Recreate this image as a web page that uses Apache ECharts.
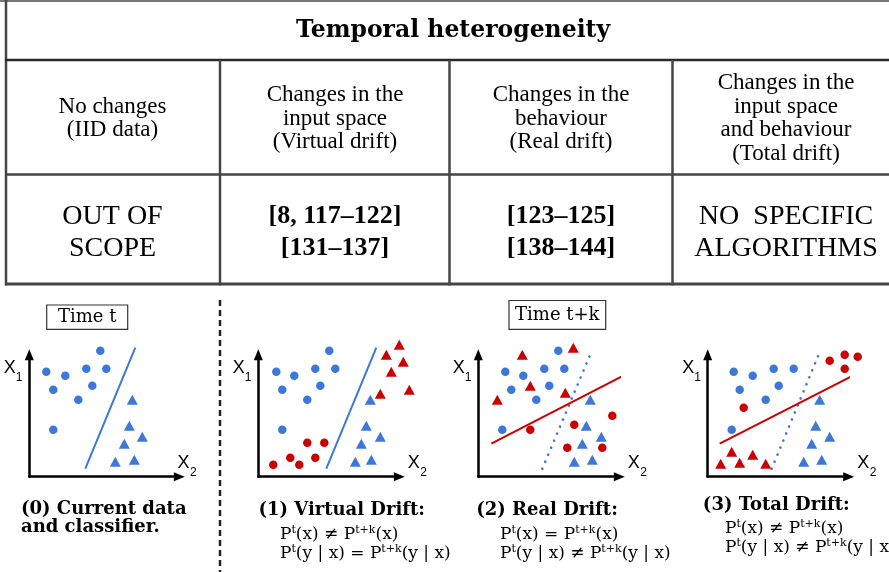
<!DOCTYPE html>
<html><head><meta charset="utf-8">
<script src="https://cdn.jsdelivr.net/npm/echarts@6/dist/echarts.min.js"></script>
<style>html,body{margin:0;padding:0;background:#fff}#c{width:889px;height:572px}</style>
</head><body><div id="c"></div>
<script>
// ---------------- text content ----------------
const tableTitle = 'Temporal heterogeneity';
const headerCells = ['No changes\n(IID data)', 'Changes in the\ninput space\n(Virtual drift)', 'Changes in the\nbehaviour\n(Real drift)', 'Changes in the\ninput space\nand behaviour\n(Total drift)'];
const bodyCells = ['OUT OF\nSCOPE', '[8, 117\u2013122]\n[131\u2013137]', '[123\u2013125]\n[138\u2013144]', 'NO  SPECIFIC\nALGORITHMS'];
const bodyBold = [false, true, true, false];
const timeLabels = ['Time t', 'Time t+k'];
const captionTitles = ['(0) Current data', '(1) Virtual Drift:', '(2) Real Drift:', '(3) Total Drift:'];
const captionSecond = 'and classifier.';
const formulaRelations = [null, ['\u2260', '='], ['=', '\u2260'], ['\u2260', '\u2260']];

// ---------------- point data (local axis units) ----------------
const p0BlueCircles = [[17,105],[36,101],[57,108],[77,108],[71,126],[24,87],[63,91],[49,77],[24,47]];
const p0BlueTriangles = [[103,77],[100,51],[113,40],[95,33],[86,15],[105,17]];
const p0Boundary = [[56,8],[106,129]];

const p1BlueCircles = [[18,105],[36,101],[57,108],[77,108],[71,126],[24,87],[62,91],[49,77],[24,47]];
const p1BlueTriangles = [[112,77],[108,51],[122,40],[103,33],[97,15],[113,17]];
const p1RedCircles = [[15,12],[32,19],[41,12],[49,34],[66,34],[57,19]];
const p1RedTriangles = [[141,132],[128,122],[145,115],[133,105],[122,83],[151,87]];
const p1Boundary = [[68,8],[118,129]];

const p2BlueCircles = [[80,126],[27,105],[45,101],[66,108],[86,108],[33,87],[71,91],[58,77],[24,47]];
const p2RedTriangles = [[44,122],[95,129],[52,91],[87,84],[19,77]];
const p2BlueTriangles = [[112,77],[108,51],[123,40],[104,33],[96,15],[114,17]];
const p2RedCircles = [[52,47],[96,52],[134,61],[89,29],[124,29]];
const p2NewBoundary = [[13,33],[145,101]];
const p2OldBoundary = [[64,8],[114,127]];

const p3BlueCircles = [[26,105],[45,101],[66,108],[86,108],[32,87],[71,91],[58,77],[24,47]];
const p3RedCircles = [[36,69],[122,116],[137,122],[150,120],[137,108]];
const p3RedTriangles = [[13,13],[24,25],[32,14],[45,22],[58,13]];
const p3BlueTriangles = [[112,77],[108,51],[122,40],[104,33],[96,15],[114,17]];
const p3NewBoundary = [[12,33],[145,101]];
const p3OldBoundary = [[64,8],[113,127]];

// ---------------- layout ----------------
const BLUE = '#3c78d8', RED = '#cc0000';
const panels = [
  {ox: 29.3, oy: 476.7, lx: 156, ly: 128},
  {ox: 258.3, oy: 476.7, lx: 147, ly: 128},
  {ox: 478.3, oy: 476.7, lx: 147, ly: 128},
  {ox: 707.7, oy: 476.7, lx: 147, ly: 128}
];
const AH = 6; // half arrow length

const grids = [], xAxes = [], yAxes = [];
panels.forEach((p, i) => {
  grids.push({left: p.ox, top: p.oy - (p.ly - AH), width: p.lx - AH, height: p.ly - AH, containLabel: false});
  const axisCommon = {
    type: 'value', gridIndex: i, min: 0,
    axisLine: {show: true, onZero: false, symbol: ['none', 'triangle'], symbolSize: [9, 11], lineStyle: {color: '#000', width: 2.5}},
    axisTick: {show: false}, axisLabel: {show: false}, splitLine: {show: false}
  };
  xAxes.push(Object.assign({}, axisCommon, {max: p.lx - AH}));
  yAxes.push(Object.assign({}, axisCommon, {max: p.ly - AH}));
});

const series = [];
function pts(i, data, shape, color) {
  series.push({
    type: 'scatter', xAxisIndex: i, yAxisIndex: i, data: data, clip: false, silent: true, z: 3,
    symbol: shape, symbolSize: shape === 'triangle' ? [11, 10] : 8.5,
    itemStyle: {color: color, opacity: 1}
  });
}
function boundary(i, data, color, dotted) {
  series.push({
    type: 'line', xAxisIndex: i, yAxisIndex: i, data: data, clip: false, silent: true, z: 2,
    showSymbol: false, symbol: 'none',
    lineStyle: dotted ? {color: color, width: 2.6, type: [0.1, 7.5], cap: 'round'} : {color: color, width: 2}
  });
}
boundary(0, p0Boundary, BLUE, false);
pts(0, p0BlueCircles, 'circle', BLUE);
pts(0, p0BlueTriangles, 'triangle', BLUE);

boundary(1, p1Boundary, BLUE, false);
pts(1, p1BlueCircles, 'circle', BLUE);
pts(1, p1BlueTriangles, 'triangle', BLUE);
pts(1, p1RedCircles, 'circle', RED);
pts(1, p1RedTriangles, 'triangle', RED);

boundary(2, p2OldBoundary, BLUE, true);
boundary(2, p2NewBoundary, RED, false);
pts(2, p2BlueCircles, 'circle', BLUE);
pts(2, p2RedTriangles, 'triangle', RED);
pts(2, p2BlueTriangles, 'triangle', BLUE);
pts(2, p2RedCircles, 'circle', RED);

boundary(3, p3OldBoundary, BLUE, true);
boundary(3, p3NewBoundary, RED, false);
pts(3, p3BlueCircles, 'circle', BLUE);
pts(3, p3RedCircles, 'circle', RED);
pts(3, p3RedTriangles, 'triangle', RED);
pts(3, p3BlueTriangles, 'triangle', BLUE);

// ---------------- graphic: table, labels ----------------
const g = [];
function line(x1, y1, x2, y2, stroke, w, dash) {
  g.push({type: 'line', silent: true, shape: {x1, y1, x2, y2}, style: {stroke, lineWidth: w, lineDash: dash || null}});
}
function text(x, y, str, opt) {
  opt = opt || {};
  const st = {
    text: str, fill: '#000',
    fontFamily: opt.family || 'DejaVu Serif', fontSize: opt.size || 17, fontWeight: opt.weight || 'normal',
    align: opt.align || 'center', textAlign: opt.align || 'center',
    verticalAlign: 'middle', textVerticalAlign: 'middle'
  };
  if (opt.lineHeight) st.lineHeight = opt.lineHeight;
  if (opt.rich) st.rich = opt.rich;
  g.push({type: 'text', silent: true, x, y, style: st, z: 10});
}

const LC = '#454545';
// table borders
line(0, 1, 889, 1, '#777', 2);
line(6, 0, 6, 285.5, LC, 2.5);
line(5, 60, 889, 60, '#2a2a2a', 2.5);
line(5, 174.5, 889, 174.5, LC, 2.5);
line(5, 284, 889, 284, LC, 3);
[220, 449.5, 672.5].forEach(x => line(x, 60, x, 285.5, LC, 2.5));
const colCenters = [112.5, 335, 561, 786];
text(453, 31, tableTitle, {size: 23.5, weight: 'bold'});
headerCells.forEach((t, i) => text(colCenters[i], 118.5, t, {family: 'Liberation Serif', size: 23, lineHeight: 23.5}));
bodyCells.forEach((t, i) => text(colCenters[i], 232.5, t, {family: 'Liberation Serif', size: bodyBold[i] ? 26 : 28, weight: bodyBold[i] ? 'bold' : 'normal', lineHeight: 31.6}));

// separator
line(220, 300, 220, 572, '#222', 2.5, [6, 4]);

// time boxes
g.push({type: 'rect', silent: true, shape: {x: 46.7, y: 305, width: 81, height: 24.3}, style: {fill: '#fff', stroke: '#333', lineWidth: 1.2}});
text(87.2, 317.5, timeLabels[0], {size: 18});
g.push({type: 'rect', silent: true, shape: {x: 509, y: 300.5, width: 96.7, height: 28.8}, style: {fill: '#fff', stroke: '#333', lineWidth: 1.2}});
text(557.3, 315.5, timeLabels[1], {size: 18});

// axis names X1 / X2
panels.forEach((p, i) => {
  const x1x = p.ox - 19.5, x1y = 368.3;
  const x2x = i === 0 ? 183.5 : p.ox + p.lx + 8.5, x2y = 463.3;
  text(x1x, x1y, 'X', {family: 'Liberation Sans', size: 18});
  text(x1x + 9.3, x1y + 9.3, '1', {family: 'Liberation Sans', size: 12});
  text(x2x, x2y, 'X', {family: 'Liberation Sans', size: 18});
  text(x2x + 9.8, x2y + 9.3, '2', {family: 'Liberation Sans', size: 12});
});

// captions
text(21, 509, captionTitles[0], {size: 18, weight: 'bold', align: 'left'});
text(21, 527, captionSecond, {size: 18, weight: 'bold', align: 'left'});
const capPos = [null, {tx: 341.7, ty: 510, fx: 280, f1: 535, f2: 553.5}, {tx: 547, ty: 510, fx: 500, f1: 535, f2: 553.5}, {tx: 776.3, ty: 505, fx: 725, f1: 528.5, f2: 547.5}];
const rich = {
  n: {fontFamily: 'DejaVu Serif', fontSize: 17, lineHeight: 20, fill: '#000', color: '#000'},
  s: {fontFamily: 'DejaVu Serif', fontSize: 11, lineHeight: 12, verticalAlign: 'top', fill: '#000', color: '#000'}
};
for (let i = 1; i < 4; i++) {
  const c = capPos[i];
  text(c.tx, c.ty, captionTitles[i], {size: 18, weight: 'bold'});
  const r = formulaRelations[i];
  text(c.fx, c.f1, '{n|P}{s|t}{n|(x) ' + r[0] + ' P}{s|t+k}{n|(x)}', {align: 'left', rich});
  text(c.fx, c.f2, '{n|P}{s|t}{n|(y | x) ' + r[1] + ' P}{s|t+k}{n|(y | x)}', {align: 'left', rich});
}

const chart = echarts.init(document.getElementById('c'));
chart.setOption({
  backgroundColor: '#fff',
  animation: false,
  grid: grids, xAxis: xAxes, yAxis: yAxes,
  series: series,
  graphic: {elements: g}
});
</script></body></html>
